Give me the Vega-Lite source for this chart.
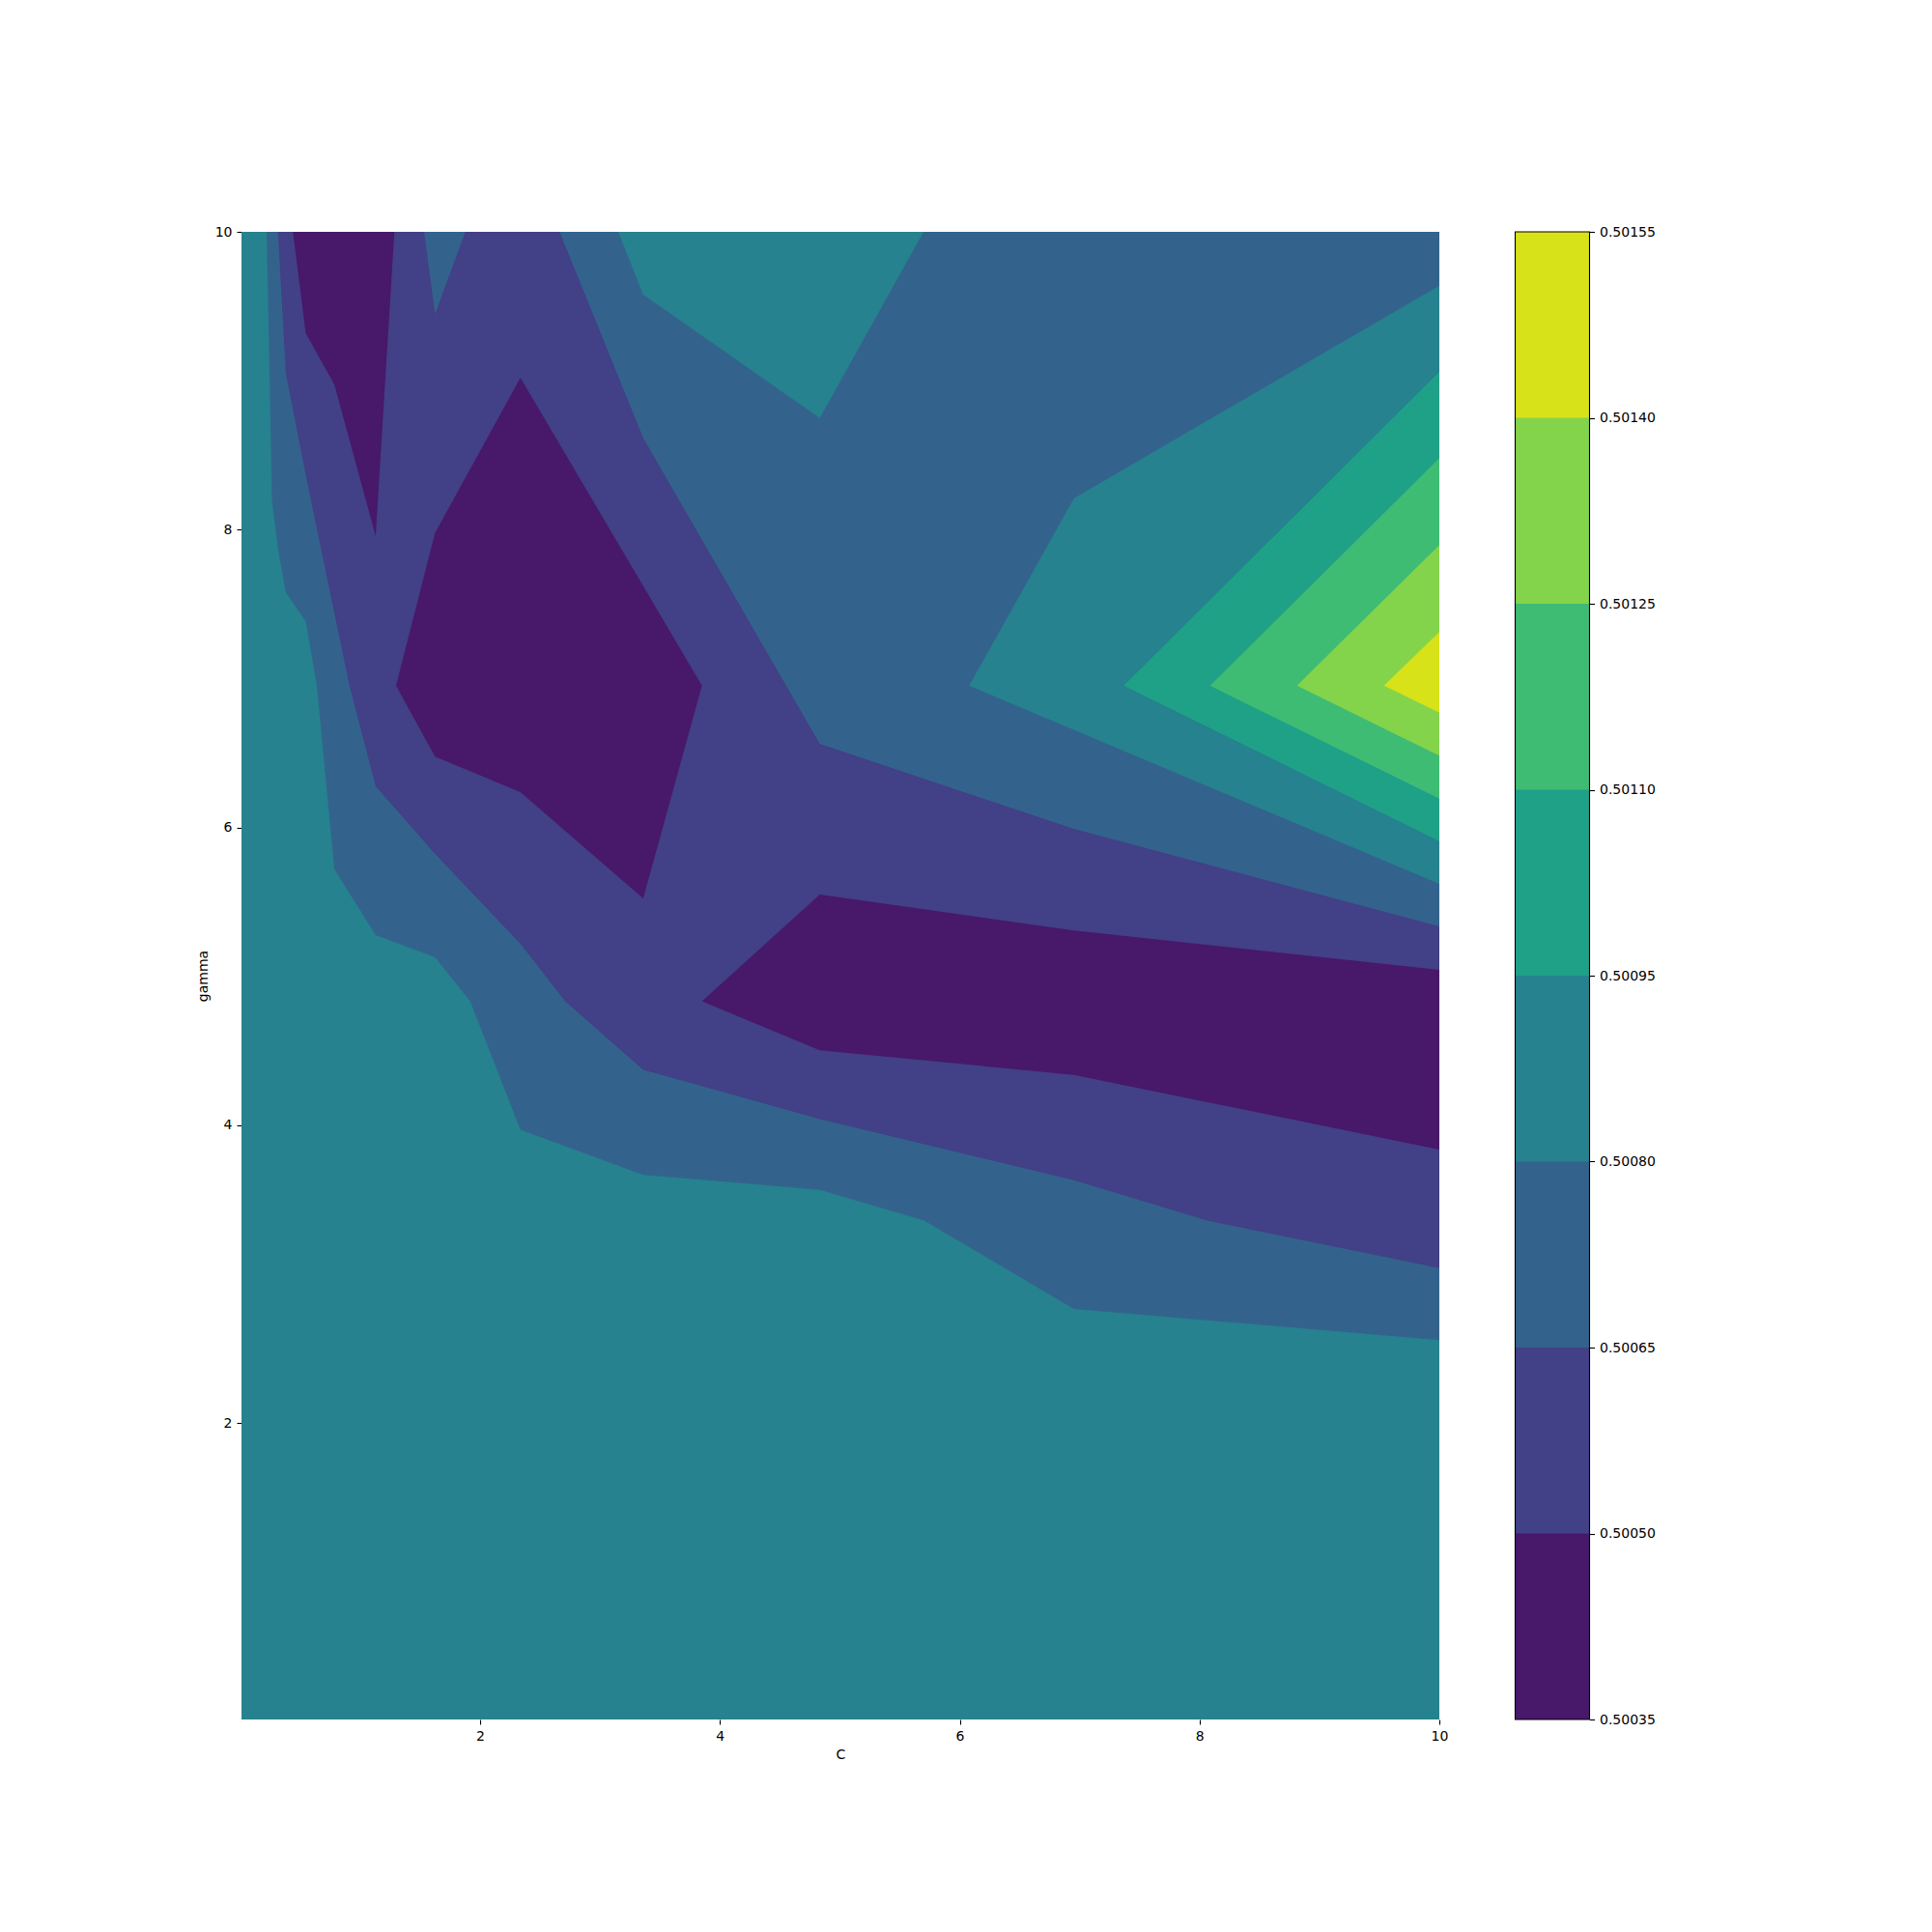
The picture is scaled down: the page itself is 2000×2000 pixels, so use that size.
{
  "$schema": "https://vega.github.io/schema/vega-lite/v6.json",
  "background": "white",
  "padding": {"left": 203, "top": 233, "right": 5, "bottom": 5},
  "config": {
    "view": {"stroke": null},
    "font": "DejaVu Sans",
    "axis": {"grid": false, "domain": false, "tickColor": "black", "tickSize": 5, "tickWidth": 1.1, "labelPadding": 5, "labelFont": "DejaVu Sans", "labelFontSize": 14, "labelColor": "black", "titleFont": "DejaVu Sans", "titleFontSize": 14, "titleFontWeight": "normal", "titleColor": "black", "titlePadding": 5}
  },
  "datasets": {
    "poly": [
      {"p": "b3", "band": 3, "i": 0, "C": 0.01, "gamma": 0.01},
      {"p": "b3", "band": 3, "i": 1, "C": 10, "gamma": 0.01},
      {"p": "b3", "band": 3, "i": 2, "C": 10, "gamma": 10},
      {"p": "b3", "band": 3, "i": 3, "C": 0.01, "gamma": 10},

      {"p": "b2", "band": 2, "i": 0, "C": 0.2195, "gamma": 10},
      {"p": "b2", "band": 2, "i": 1, "C": 3.152, "gamma": 10},
      {"p": "b2", "band": 2, "i": 2, "C": 3.360, "gamma": 9.578},
      {"p": "b2", "band": 2, "i": 3, "C": 4.833, "gamma": 8.750},
      {"p": "b2", "band": 2, "i": 4, "C": 5.698, "gamma": 10},
      {"p": "b2", "band": 2, "i": 5, "C": 10, "gamma": 10},
      {"p": "b2", "band": 2, "i": 6, "C": 10, "gamma": 9.639},
      {"p": "b2", "band": 2, "i": 7, "C": 6.952, "gamma": 8.210},
      {"p": "b2", "band": 2, "i": 8, "C": 6.079, "gamma": 6.952},
      {"p": "b2", "band": 2, "i": 9, "C": 10, "gamma": 5.621},
      {"p": "b2", "band": 2, "i": 10, "C": 10, "gamma": 2.557},
      {"p": "b2", "band": 2, "i": 11, "C": 6.952, "gamma": 2.767},
      {"p": "b2", "band": 2, "i": 12, "C": 5.703, "gamma": 3.360},
      {"p": "b2", "band": 2, "i": 13, "C": 4.833, "gamma": 3.567},
      {"p": "b2", "band": 2, "i": 14, "C": 3.360, "gamma": 3.667},
      {"p": "b2", "band": 2, "i": 15, "C": 2.336, "gamma": 3.970},
      {"p": "b2", "band": 2, "i": 16, "C": 1.917, "gamma": 4.833},
      {"p": "b2", "band": 2, "i": 17, "C": 1.624, "gamma": 5.128},
      {"p": "b2", "band": 2, "i": 18, "C": 1.129, "gamma": 5.277},
      {"p": "b2", "band": 2, "i": 19, "C": 0.785, "gamma": 5.719},
      {"p": "b2", "band": 2, "i": 20, "C": 0.638, "gamma": 6.952},
      {"p": "b2", "band": 2, "i": 21, "C": 0.546, "gamma": 7.384},
      {"p": "b2", "band": 2, "i": 22, "C": 0.379, "gamma": 7.578},
      {"p": "b2", "band": 2, "i": 23, "C": 0.314, "gamma": 7.870},
      {"p": "b2", "band": 2, "i": 24, "C": 0.264, "gamma": 8.195},
      {"p": "b2", "band": 2, "i": 25, "C": 0.246, "gamma": 8.951},
      {"p": "b2", "band": 2, "i": 26, "C": 0.230, "gamma": 9.600},

      {"p": "b1", "band": 1, "i": 0, "C": 0.314, "gamma": 10},
      {"p": "b1", "band": 1, "i": 1, "C": 1.533, "gamma": 10},
      {"p": "b1", "band": 1, "i": 2, "C": 1.624, "gamma": 9.449},
      {"p": "b1", "band": 1, "i": 3, "C": 1.877, "gamma": 10},
      {"p": "b1", "band": 1, "i": 4, "C": 2.663, "gamma": 10},
      {"p": "b1", "band": 1, "i": 5, "C": 3.360, "gamma": 8.616},
      {"p": "b1", "band": 1, "i": 6, "C": 4.833, "gamma": 6.562},
      {"p": "b1", "band": 1, "i": 7, "C": 6.952, "gamma": 5.991},
      {"p": "b1", "band": 1, "i": 8, "C": 10, "gamma": 5.336},
      {"p": "b1", "band": 1, "i": 9, "C": 10, "gamma": 3.041},
      {"p": "b1", "band": 1, "i": 10, "C": 8.063, "gamma": 3.360},
      {"p": "b1", "band": 1, "i": 11, "C": 6.952, "gamma": 3.632},
      {"p": "b1", "band": 1, "i": 12, "C": 4.833, "gamma": 4.042},
      {"p": "b1", "band": 1, "i": 13, "C": 3.360, "gamma": 4.373},
      {"p": "b1", "band": 1, "i": 14, "C": 2.709, "gamma": 4.833},
      {"p": "b1", "band": 1, "i": 15, "C": 2.336, "gamma": 5.219},
      {"p": "b1", "band": 1, "i": 16, "C": 1.624, "gamma": 5.822},
      {"p": "b1", "band": 1, "i": 17, "C": 1.129, "gamma": 6.276},
      {"p": "b1", "band": 1, "i": 18, "C": 0.910, "gamma": 6.952},
      {"p": "b1", "band": 1, "i": 19, "C": 0.785, "gamma": 7.438},
      {"p": "b1", "band": 1, "i": 20, "C": 0.546, "gamma": 8.365},
      {"p": "b1", "band": 1, "i": 21, "C": 0.379, "gamma": 9.053},

      {"p": "b0a", "band": 0, "i": 0, "C": 0.439, "gamma": 10},
      {"p": "b0a", "band": 0, "i": 1, "C": 1.285, "gamma": 10},
      {"p": "b0a", "band": 0, "i": 2, "C": 1.129, "gamma": 7.957},
      {"p": "b0a", "band": 0, "i": 3, "C": 0.785, "gamma": 8.973},
      {"p": "b0a", "band": 0, "i": 4, "C": 0.546, "gamma": 9.319},

      {"p": "b0b", "band": 0, "i": 0, "C": 2.336, "gamma": 9.020},
      {"p": "b0b", "band": 0, "i": 1, "C": 3.850, "gamma": 6.952},
      {"p": "b0b", "band": 0, "i": 2, "C": 3.360, "gamma": 5.524},
      {"p": "b0b", "band": 0, "i": 3, "C": 2.336, "gamma": 6.238},
      {"p": "b0b", "band": 0, "i": 4, "C": 1.624, "gamma": 6.476},
      {"p": "b0b", "band": 0, "i": 5, "C": 1.299, "gamma": 6.952},
      {"p": "b0b", "band": 0, "i": 6, "C": 1.624, "gamma": 7.978},

      {"p": "b0c", "band": 0, "i": 0, "C": 3.850, "gamma": 4.833},
      {"p": "b0c", "band": 0, "i": 1, "C": 4.833, "gamma": 5.550},
      {"p": "b0c", "band": 0, "i": 2, "C": 6.952, "gamma": 5.308},
      {"p": "b0c", "band": 0, "i": 3, "C": 10, "gamma": 5.044},
      {"p": "b0c", "band": 0, "i": 4, "C": 10, "gamma": 3.837},
      {"p": "b0c", "band": 0, "i": 5, "C": 6.952, "gamma": 4.339},
      {"p": "b0c", "band": 0, "i": 6, "C": 4.833, "gamma": 4.504},

      {"p": "b4", "band": 4, "i": 0, "C": 10, "gamma": 9.059},
      {"p": "b4", "band": 4, "i": 1, "C": 7.368, "gamma": 6.952},
      {"p": "b4", "band": 4, "i": 2, "C": 10, "gamma": 5.909},

      {"p": "b5", "band": 5, "i": 0, "C": 10, "gamma": 8.480},
      {"p": "b5", "band": 5, "i": 1, "C": 8.088, "gamma": 6.952},
      {"p": "b5", "band": 5, "i": 2, "C": 10, "gamma": 6.194},

      {"p": "b6", "band": 6, "i": 0, "C": 10, "gamma": 7.896},
      {"p": "b6", "band": 6, "i": 1, "C": 8.813, "gamma": 6.952},
      {"p": "b6", "band": 6, "i": 2, "C": 10, "gamma": 6.482},

      {"p": "b7", "band": 7, "i": 0, "C": 10, "gamma": 7.312},
      {"p": "b7", "band": 7, "i": 1, "C": 9.538, "gamma": 6.952},
      {"p": "b7", "band": 7, "i": 2, "C": 10, "gamma": 6.771}
    ],
    "levels": [
      {"lo": 0.50035, "hi": 0.50050, "band": 0},
      {"lo": 0.50050, "hi": 0.50065, "band": 1},
      {"lo": 0.50065, "hi": 0.50080, "band": 2},
      {"lo": 0.50080, "hi": 0.50095, "band": 3},
      {"lo": 0.50095, "hi": 0.50110, "band": 4},
      {"lo": 0.50110, "hi": 0.50125, "band": 5},
      {"lo": 0.50125, "hi": 0.50140, "band": 6},
      {"lo": 0.50140, "hi": 0.50155, "band": 7}
    ]
  },
  "resolve": {"scale": {"x": "independent", "y": "independent", "color": "shared"}},
  "spacing": 68.5,
  "hconcat": [
    {
      "width": 1240,
      "height": 1540,
      "data": {"name": "poly"},
      "encoding": {
        "x": {"field": "C", "type": "quantitative", "scale": {"domain": [0.01, 10], "nice": false, "zero": false}, "axis": {"values": [2, 4, 6, 8, 10], "format": "d", "labelFlush": false, "labelOverlap": false, "title": "C"}},
        "y": {"field": "gamma", "type": "quantitative", "scale": {"domain": [0.01, 10], "nice": false, "zero": false}, "axis": {"values": [2, 4, 6, 8, 10], "format": "d", "labelOverlap": false, "title": "gamma"}}
      },
      "layer": [
        {"transform": [{"filter": "datum.band == 3"}], "mark": {"type": "line", "filled": true, "interpolate": "linear-closed"}, "encoding": {"color": {"field": "band", "type": "nominal", "scale": {"domain": [0, 1, 2, 3, 4, 5, 6, 7], "range": ["#48186a", "#424086", "#33638d", "#26828e", "#1fa188", "#3fbc73", "#84d44b", "#d8e219"]}, "legend": null}, "order": {"field": "i", "type": "quantitative"}, "detail": {"field": "p", "type": "nominal"}}},
        {"transform": [{"filter": "datum.band == 2"}], "mark": {"type": "line", "filled": true, "interpolate": "linear-closed"}, "encoding": {"color": {"field": "band", "type": "nominal", "legend": null}, "order": {"field": "i", "type": "quantitative"}, "detail": {"field": "p", "type": "nominal"}}},
        {"transform": [{"filter": "datum.band == 1"}], "mark": {"type": "line", "filled": true, "interpolate": "linear-closed"}, "encoding": {"color": {"field": "band", "type": "nominal", "legend": null}, "order": {"field": "i", "type": "quantitative"}, "detail": {"field": "p", "type": "nominal"}}},
        {"transform": [{"filter": "datum.band == 0"}], "mark": {"type": "line", "filled": true, "interpolate": "linear-closed"}, "encoding": {"color": {"field": "band", "type": "nominal", "legend": null}, "order": {"field": "i", "type": "quantitative"}, "detail": {"field": "p", "type": "nominal"}}},
        {"transform": [{"filter": "datum.band == 4"}], "mark": {"type": "line", "filled": true, "interpolate": "linear-closed"}, "encoding": {"color": {"field": "band", "type": "nominal", "legend": null}, "order": {"field": "i", "type": "quantitative"}, "detail": {"field": "p", "type": "nominal"}}},
        {"transform": [{"filter": "datum.band == 5"}], "mark": {"type": "line", "filled": true, "interpolate": "linear-closed"}, "encoding": {"color": {"field": "band", "type": "nominal", "legend": null}, "order": {"field": "i", "type": "quantitative"}, "detail": {"field": "p", "type": "nominal"}}},
        {"transform": [{"filter": "datum.band == 6"}], "mark": {"type": "line", "filled": true, "interpolate": "linear-closed"}, "encoding": {"color": {"field": "band", "type": "nominal", "legend": null}, "order": {"field": "i", "type": "quantitative"}, "detail": {"field": "p", "type": "nominal"}}},
        {"transform": [{"filter": "datum.band == 7"}], "mark": {"type": "line", "filled": true, "interpolate": "linear-closed"}, "encoding": {"color": {"field": "band", "type": "nominal", "legend": null}, "order": {"field": "i", "type": "quantitative"}, "detail": {"field": "p", "type": "nominal"}}},
        {"data": {"values": [{}]}, "mark": {"type": "rect", "filled": false, "color": "black", "strokeWidth": 1.1}, "encoding": {"x": {"datum": 0.01, "type": "quantitative"}, "x2": {"datum": 10}, "y": {"datum": 0.01, "type": "quantitative"}, "y2": {"datum": 10}}}
      ]
    },
    {
      "width": 77,
      "height": 1540,
      "layer": [
        {"data": {"name": "levels"}, "mark": {"type": "rect"}, "encoding": {
          "y": {"field": "lo", "type": "quantitative", "scale": {"domain": [0.50035, 0.50155], "nice": false, "zero": false}, "axis": {"orient": "right", "values": [0.50035, 0.5005, 0.50065, 0.5008, 0.50095, 0.5011, 0.50125, 0.5014, 0.50155], "format": ".5f", "labelOverlap": false, "title": null}},
          "y2": {"datum": 0.50155},
          "color": {"field": "band", "type": "nominal", "legend": null},
          "order": {"field": "band", "type": "quantitative"}
        }},
        {"data": {"values": [{}]}, "mark": {"type": "rect", "filled": false, "color": "black", "strokeWidth": 1.1}, "encoding": {"y": {"datum": 0.50035, "type": "quantitative"}, "y2": {"datum": 0.50155}}}
      ]
    }
  ]
}
